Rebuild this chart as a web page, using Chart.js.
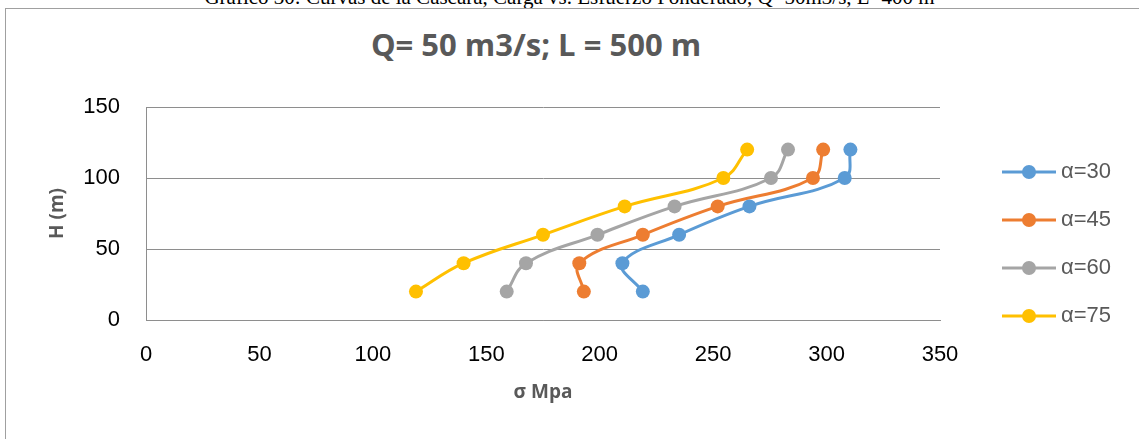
<!DOCTYPE html>
<html>
<head>
<meta charset="utf-8">
<script src="https://cdn.jsdelivr.net/npm/chart.js@4.4.1/dist/chart.umd.min.js"></script>
<style>
  html, body { margin: 0; padding: 0; background: #fff; overflow: hidden; }
  body { width: 1139px; height: 439px; position: relative; }
  .caption {
    position: absolute; left: 0; top: -13px; width: 1139px;
    text-align: center; white-space: nowrap;
    font: 21px/21px "Liberation Serif", serif; color: #000;
  }
  .frame {
    position: absolute; left: 5px; top: 8px; width: 1200px; height: 500px;
    border: 1px solid #a0a0a0;
  }
  .title {
    position: absolute; left: 0; top: 26px; width: 1072px;
    text-align: center; white-space: nowrap;
    font: bold 31px/36px "Open Sans", sans-serif; color: #595959;
  }
  .chart-box { position: absolute; left: 0; top: 0; width: 1139px; height: 439px; }
</style>
</head>
<body>
<div class="caption">Gráfico 30: Curvas de la Cascara, Carga vs. Esfuerzo Ponderado, Q=50m3/s, L=400 m</div>
<div class="frame"></div>
<div class="title">Q= 50 m3/s; L = 500 m</div>
<div class="chart-box"><canvas id="shellChart"></canvas></div>
<script>
// head H (m) for every curve
const heights = [20, 40, 60, 80, 100, 120];

// weighted stress (MPa) per angle
const sigmaA30 = [219, 210, 235, 266, 308, 310.5];
const sigmaA45 = [193, 191, 219, 252, 294, 298.5];
const sigmaA60 = [159, 167.5, 199, 233, 275.5, 283];
const sigmaA75 = [119, 140, 175, 211, 254.5, 265];

const seriesLabels = ['α=30', 'α=45', 'α=60', 'α=75'];
const seriesColors = ['#5B9BD5', '#ED7D31', '#A5A5A5', '#FFC000'];

const xTicks = [0, 50, 100, 150, 200, 250, 300, 350];
const yTicks = [0, 50, 100, 150];

const gridGray = '#8e8e8e';

function toPoints(sigma) {
    return sigma.map((s, i) => ({ x: s, y: heights[i] }));
}

const seriesData = [sigmaA30, sigmaA45, sigmaA60, sigmaA75];

// legend on the right: line + marker + label
const sideLegend = {
    id: 'sideLegend',
    afterDraw(chart) {
        const { ctx, chartArea } = chart;
        const x0 = chartArea.right + 62;
        ctx.save();
        ctx.font = '22px "Liberation Sans", sans-serif';
        ctx.textBaseline = 'middle';
        chart.data.datasets.forEach((ds, i) => {
            const y = 172 + i * 48;
            ctx.strokeStyle = ds.borderColor;
            ctx.lineWidth = 3;
            ctx.beginPath();
            ctx.moveTo(x0, y);
            ctx.lineTo(x0 + 54, y);
            ctx.stroke();
            ctx.fillStyle = ds.borderColor;
            ctx.beginPath();
            ctx.arc(x0 + 27, y, 7, 0, Math.PI * 2);
            ctx.fill();
            ctx.fillStyle = '#595959';
            ctx.fillText(ds.label, x0 + 59, y);
        });
        ctx.restore();
    }
};

new Chart(document.getElementById('shellChart'), {
    type: 'scatter',
    data: {
        datasets: seriesData.map((sigma, i) => ({
            label: seriesLabels[i],
            data: toPoints(sigma),
            showLine: true,
            tension: 0.4,
            borderColor: seriesColors[i],
            backgroundColor: seriesColors[i],
            borderWidth: 3,
            pointRadius: 7,
            pointBorderWidth: 0,
            pointBackgroundColor: seriesColors[i]
        }))
    },
    options: {
        responsive: true,
        maintainAspectRatio: false,
        animation: false,
        layout: { padding: { top: 107, right: 199, bottom: 0, left: 0 } },
        plugins: {
            legend: { display: false },
            tooltip: { enabled: false }
        },
        scales: {
            x: {
                type: 'linear',
                min: 0,
                max: 350,
                afterBuildTicks: s => { s.ticks = xTicks.map(v => ({ value: v })); },
                afterFit: s => { s.height = 119; s.paddingLeft = 0; s.paddingRight = 0; },
                grid: { display: false, drawTicks: false },
                border: { display: true, color: gridGray, width: 1 },
                ticks: { color: '#000', padding: 22, font: { family: 'Liberation Sans', size: 22 } },
                title: {
                    display: true,
                    text: 'σ Mpa',
                    color: '#595959',
                    font: { family: 'Open Sans', size: 19, weight: 'bold' },
                    padding: { top: 0, bottom: 35 }
                }
            },
            y: {
                min: 0,
                max: 150,
                afterBuildTicks: s => { s.ticks = yTicks.map(v => ({ value: v })); },
                afterFit: s => { s.width = 146; s.paddingTop = 0; s.paddingBottom = 0; },
                grid: { color: gridGray, lineWidth: 1, drawTicks: false },
                border: { display: true, color: gridGray, width: 1 },
                ticks: { color: '#000', padding: 26, font: { family: 'Liberation Sans', size: 22 } },
                title: {
                    display: true,
                    text: 'H (m)',
                    color: '#595959',
                    font: { family: 'Open Sans', size: 19, weight: 'bold' },
                    padding: { top: 46, bottom: 0 }
                }
            }
        }
    },
    plugins: [sideLegend]
});
</script>
</body>
</html>
